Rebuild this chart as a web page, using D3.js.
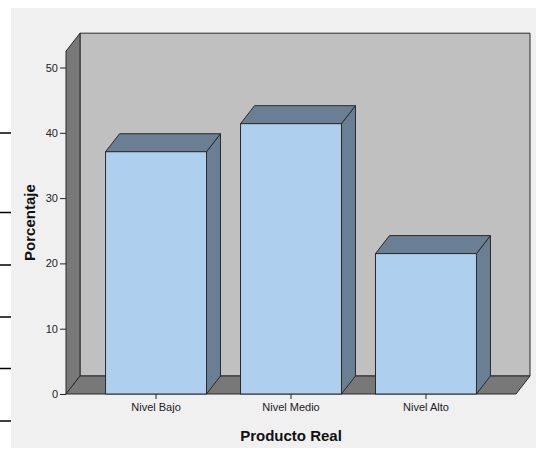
<!DOCTYPE html>
<html>
<head>
<meta charset="utf-8">
<script src="https://cdn.jsdelivr.net/npm/d3@7"></script>
<style>
  html, body { margin: 0; padding: 0; background: #ffffff; }
  svg { display: block; }
  text { font-family: "Liberation Sans", Arial, sans-serif; }
</style>
</head>
<body>
<script>
// Data
const categories = ["Nivel Bajo", "Nivel Medio", "Nivel Alto"];
const percentages = [37.1, 41.4, 21.5];
const yTicks = [0, 10, 20, 30, 40, 50];
const xTitle = "Producto Real";
const yTitle = "Porcentaje";
const yMax = 52.5;

const W = 536, H = 454;
const svg = d3.select("body").append("svg").attr("width", W).attr("height", H);

// Panel background
svg.append("rect").attr("x", 11).attr("y", 8).attr("width", W - 11).attr("height", 440)
  .attr("fill", "#f0f0f0");

// Short rules on the left margin
[133, 212.5, 265, 317, 368.5, 421].forEach(yy => {
  svg.append("line").attr("x1", 0).attr("x2", 11).attr("y1", yy).attr("y2", yy)
    .attr("stroke", "#000").attr("stroke-width", 1.5);
});

// 3-D depth offset
const DX = 14, DY = 18;

// Scales (front plane)
const x = d3.scaleBand().domain(categories).range([66, 516])
  .paddingInner(0.252).paddingOuter(0.293);
const y = d3.scaleLinear().domain([0, 50]).range([394, 67.5]);

const x0 = 66, x1 = 516, y0 = y(0), yTop = y(yMax);
const edge = "#2a2a2a";
const poly = pts => pts.map(p => p.join(",")).join(" ");

// Back wall
svg.append("polygon")
  .attr("points", poly([[x0 + DX, yTop - DY], [x1 + DX, yTop - DY], [x1 + DX, y0 - DY], [x0 + DX, y0 - DY]]))
  .attr("fill", "#c0c0c0").attr("stroke", edge).attr("stroke-width", 1);
// Left wall
svg.append("polygon")
  .attr("points", poly([[x0, yTop], [x0 + DX, yTop - DY], [x0 + DX, y0 - DY], [x0, y0]]))
  .attr("fill", "#787878").attr("stroke", edge).attr("stroke-width", 1);
// Floor
svg.append("polygon")
  .attr("points", poly([[x0, y0], [x0 + DX, y0 - DY], [x1 + DX, y0 - DY], [x1, y0]]))
  .attr("fill", "#787878").attr("stroke", edge).attr("stroke-width", 1);

// Bars
const bars = svg.append("g").selectAll("g").data(categories.map((c, i) => ({ c, v: percentages[i] })))
  .join("g");
bars.each(function (d) {
  const g = d3.select(this);
  const bx0 = x(d.c), bx1 = x(d.c) + x.bandwidth(), by = y(d.v);
  // side
  g.append("polygon")
    .attr("points", poly([[bx1, by], [bx1 + DX, by - DY], [bx1 + DX, y0 - DY], [bx1, y0]]))
    .attr("fill", "#6a7f93").attr("stroke", edge).attr("stroke-width", 1);
  // top
  g.append("polygon")
    .attr("points", poly([[bx0, by], [bx0 + DX, by - DY], [bx1 + DX, by - DY], [bx1, by]]))
    .attr("fill", "#6a7f93").attr("stroke", edge).attr("stroke-width", 1);
  // front
  g.append("rect").attr("x", bx0).attr("y", by).attr("width", bx1 - bx0).attr("height", y0 - by)
    .attr("fill", "#aed0ee").attr("stroke", edge).attr("stroke-width", 1);
});

// Y axis
const yAxis = svg.append("g").attr("transform", `translate(${x0},0)`)
  .call(d3.axisLeft(y).tickValues(yTicks).tickSize(6).tickPadding(2));
yAxis.select(".domain").remove();
yAxis.selectAll("line").attr("stroke", "#222");
yAxis.selectAll("text").attr("font-size", 11).attr("fill", "#222")
  .style("font-family", '"Liberation Sans", Arial, sans-serif');

// X axis
const xAxis = svg.append("g").attr("transform", `translate(0,${y0})`)
  .call(d3.axisBottom(x).tickSize(5).tickPadding(4));
xAxis.select(".domain").remove();
xAxis.selectAll("line").attr("stroke", "#222");
xAxis.selectAll("text").attr("font-size", 11).attr("fill", "#222")
  .style("font-family", '"Liberation Sans", Arial, sans-serif');

// Axis titles
svg.append("text").attr("x", (x0 + x1) / 2).attr("y", 440.5)
  .attr("text-anchor", "middle").attr("font-size", 15).attr("font-weight", "bold").attr("fill", "#111")
  .text(xTitle);
svg.append("text").attr("transform", `translate(35,${(yTop + y0) / 2}) rotate(-90)`)
  .attr("text-anchor", "middle").attr("font-size", 15).attr("font-weight", "bold").attr("fill", "#111")
  .text(yTitle);
</script>
</body>
</html>
